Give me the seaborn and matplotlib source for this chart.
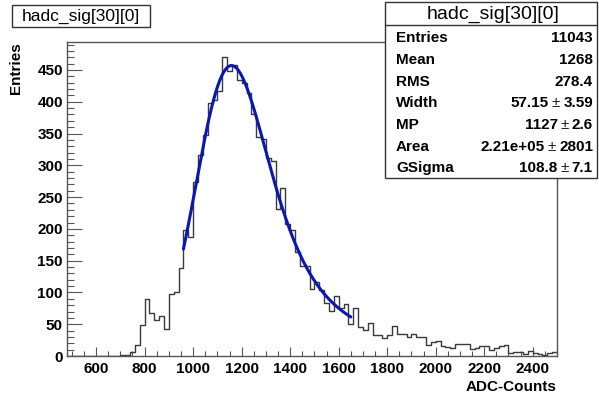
import numpy as np
import pandas as pd
import matplotlib
matplotlib.use("Agg")
import matplotlib.pyplot as plt
from matplotlib.patches import Rectangle
from matplotlib.lines import Line2D
from matplotlib.ticker import MultipleLocator
import seaborn as sns

# ---------------- data ----------------
bin_lo = 480
bin_hi = 2500
bin_width = 20
counts = [0, 0, 0, 0, 0, 0, 0, 0, 0, 0, 0,            # 480-680
          1, 2, 6, 17, 49, 90, 67, 57, 63, 43,         # 700-880
          98, 101, 139, 198, 188, 274, 316, 348, 398, 402,  # 900-1080
          417, 471, 448, 458, 435, 429, 414, 381, 345, 341,  # 1100-1280
          312, 306, 231, 265, 207, 198, 164, 142, 142, 105,  # 1300-1480
          117, 104, 84, 71, 94, 75, 82, 50, 75, 46,          # 1500-1680
          41, 52, 33, 33, 28, 33, 47, 35, 35, 30,            # 1700-1880
          34, 30, 30, 17, 22, 24, 16, 14, 13, 19,            # 1900-2080
          19, 19, 11, 12, 16, 16, 10, 12, 16, 18,            # 2100-2280
          4, 6, 6, 3, 8, 5, 3, 2, 4, 7]                      # 2300-2480

hist_name = "hadc_sig[30][0]"
stat_labels = ["Entries", "Mean", "RMS", "Width", "MP", "Area", "GSigma"]
stat_values = ["11043", "1268", "278.4", "57.15", "1127", "2.21e+05", "108.8"]
stat_errors = [None, None, None, "3.59", "2.6", "2801", "7.1"]

# fit parameters (Landau convoluted with Gaussian)
fit_width = 57.15
fit_mp = 1127.0
fit_area = 2.21e5
fit_gsigma = 108.8
fit_range = (960, 1650)

x_ticks = [600, 800, 1000, 1200, 1400, 1600, 1800, 2000, 2200, 2400]
y_ticks = [0, 50, 100, 150, 200, 250, 300, 350, 400, 450]

# ---------------- fit function ----------------
def landau_std(lam):
    t = np.linspace(1e-9, 25, 8001)
    out = np.zeros_like(lam)
    for i in range(0, len(lam), 200):
        l = lam[i:i + 200]
        integ = np.exp(-np.pi * t / 2)[None, :] * np.cos(l[:, None] * t[None, :] + (t * np.log(t))[None, :])
        out[i:i + 200] = np.trapezoid(integ, t, axis=1) / np.pi
    out[lam < -4] = 0.0
    return np.clip(out, 0, None)

def langaus(xeval):
    mpc = fit_mp
    step = 1.0
    xg = np.arange(fit_range[0] - 6 * fit_gsigma, fit_range[1] + 6 * fit_gsigma, step)
    lan = landau_std((xg - mpc) / fit_width) / fit_width
    k = np.arange(-5 * fit_gsigma, 5 * fit_gsigma + step, step)
    g = np.exp(-0.5 * (k / fit_gsigma) ** 2) / (np.sqrt(2 * np.pi) * fit_gsigma)
    conv = np.convolve(lan, g, mode="same") * step
    return fit_area * np.interp(xeval, xg, conv)

x_fit = np.linspace(fit_range[0], fit_range[1], 400)
y_fit = langaus(x_fit)

centers = bin_lo + bin_width * np.arange(len(counts)) + bin_width / 2
df = pd.DataFrame({"adc": centers, "n": np.array(counts, dtype=float)})
df_fit = pd.DataFrame({"x": x_fit, "y": y_fit})

# ---------------- figure ----------------
sns.set_theme(style="white")
plt.rcParams["font.family"] = ["Liberation Sans", "DejaVu Sans"]

W, H = 599, 398
fig = plt.figure(figsize=(W / 100, H / 100), dpi=100)
L, R, T, B = 67, 557, 42, 356
ax = fig.add_axes([L / W, 1 - B / H, (R - L) / W, (B - T) / H])

sns.histplot(data=df, x="adc", weights="n", binwidth=bin_width,
             binrange=(bin_lo, bin_hi), element="step",
             fill=False, color="#3a3a3a", linewidth=1.0, ax=ax)
sns.lineplot(data=df_fit, x="x", y="y", color="#0b17b0", linewidth=2.2, ax=ax)

ax.set_xlim(480, 2500)
ax.set_ylim(0, 494)
ax.set_xticks(x_ticks)
ax.set_yticks(y_ticks)
ax.xaxis.set_minor_locator(MultipleLocator(50))
ax.yaxis.set_minor_locator(MultipleLocator(10))
ax.tick_params(axis="x", which="major", direction="in", length=6.8, width=0.8,
               color="#555555", labelsize=11, pad=4, bottom=True, top=False)
ax.tick_params(axis="x", which="minor", direction="in", length=3.4, width=0.8,
               color="#555555", bottom=True, top=False)
ax.tick_params(axis="y", which="major", direction="in", length=10.6, width=0.8,
               color="#555555", labelsize=11, pad=3, left=True, right=False)
ax.tick_params(axis="y", which="minor", direction="in", length=5.3, width=0.8,
               color="#555555", left=True, right=False)
for lab in ax.get_xticklabels() + ax.get_yticklabels():
    lab.set_fontweight("bold")
    lab.set_color("black")
for s in ax.spines.values():
    s.set_visible(True)
    s.set_color("#555555")
    s.set_linewidth(1.0)

ax.set_xlabel("ADC-Counts", loc="right", fontsize=11, fontweight="bold", color="black")
ax.xaxis.set_label_coords(1.0, -0.075)
ax.set_ylabel("Entries", loc="top", fontsize=11, fontweight="bold", color="black")
ax.yaxis.set_label_coords(-0.09, 1.0)

def fx(x):
    return x / W

def fy(y):
    return 1 - y / H

# title box
fig.add_artist(Rectangle((fx(12), fy(27)), fx(150) - fx(12), fy(5) - fy(27),
                         transform=fig.transFigure, facecolor="white",
                         edgecolor="#333333", linewidth=1.0, zorder=5))
fig.text(fx(81), fy(16), hist_name, ha="center", va="center", fontsize=12.5,
         color="black", zorder=6)

# stats box
fig.add_artist(Rectangle((fx(385), fy(178)), fx(597) - fx(385), fy(2) - fy(178),
                         transform=fig.transFigure, facecolor="white",
                         edgecolor="#333333", linewidth=1.0, zorder=5))
fig.add_artist(Line2D([fx(385), fx(597)], [fy(25), fy(25)], transform=fig.transFigure,
                      color="#333333", linewidth=1.0, zorder=6))
fig.text(fx(493), fy(14), hist_name, ha="center", va="center", fontsize=14,
         color="black", zorder=6)

renderer = fig.canvas.get_renderer()
row_y = [38, 60, 82, 103, 125, 147, 168]
gap = 3
for lab, val, err, yy in zip(stat_labels, stat_values, stat_errors, row_y):
    fig.text(fx(396), fy(yy), lab, ha="left", va="center", fontsize=11,
             fontweight="bold", color="black", zorder=6)
    xr = 593
    if err is not None:
        t_err = fig.text(fx(xr), fy(yy), err, ha="right", va="center", fontsize=11,
                         fontweight="bold", color="black", zorder=6)
        xr -= t_err.get_window_extent(renderer).width + gap
        t_pm = fig.text(fx(xr), fy(yy), "\u00b1", ha="right", va="center", fontsize=11,
                        fontweight="normal", color="#222222", zorder=6)
        xr -= t_pm.get_window_extent(renderer).width + gap
    fig.text(fx(xr), fy(yy), val, ha="right", va="center", fontsize=11,
             fontweight="bold", color="black", zorder=6)

fig.savefig("out.png", dpi=100)
